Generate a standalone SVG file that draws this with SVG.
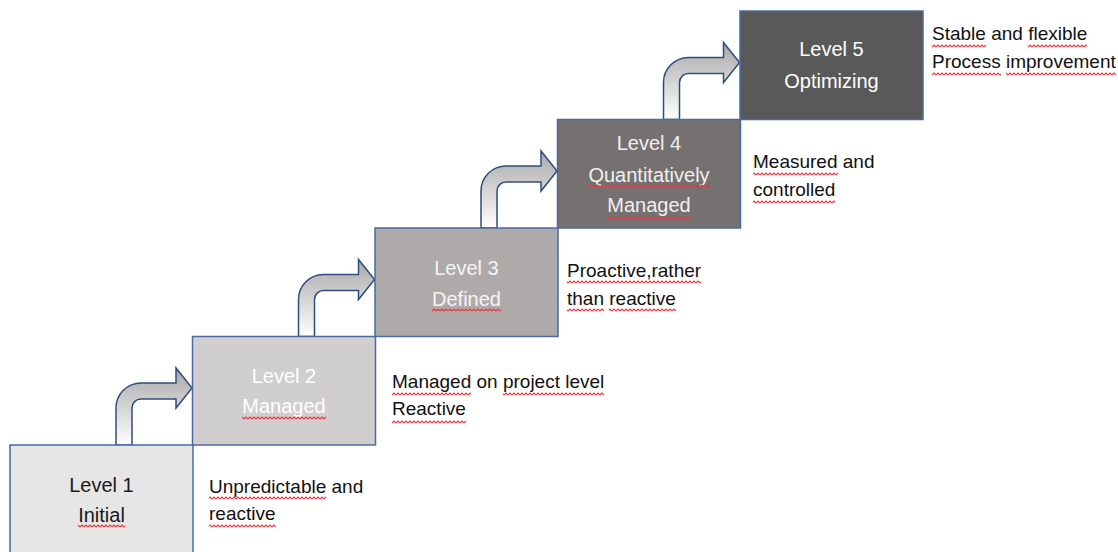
<svg xmlns="http://www.w3.org/2000/svg" width="1118" height="552" viewBox="0 0 1118 552">
<style>
.box{stroke:#4a6b9c;stroke-width:1.5}
.arrow{fill:url(#ag);stroke:#2f4d7e;stroke-width:1.5;stroke-linejoin:miter}
.bt{font-family:"Liberation Sans",Arial,sans-serif;font-size:20px;text-anchor:middle}
.st{font-family:"Liberation Sans",Arial,sans-serif;font-size:19px;fill:#111}
.sq{fill:url(#sq)}
</style>
<defs>
<linearGradient id="ag" x1="0" y1="0" x2="0" y2="1">
<stop offset="0" stop-color="#a8a8a8"/>
<stop offset="0.45" stop-color="#cfcfcf"/>
<stop offset="1" stop-color="#ffffff"/>
</linearGradient>
<pattern id="sq" width="4" height="4" patternUnits="userSpaceOnUse">
<path d="M0,3 L2,1 L4,3" fill="none" stroke="#e8363c" stroke-width="1.2"/>
</pattern>
<path id="arr" d="M116,445 L116,408 A25,25 0 0 1 141,383 L176,383 L176,368 L192,388 L176,408 L176,399 L141,399 A9,9 0 0 0 132,408 L132,445 Z"/>
</defs>
<rect width="1118" height="552" fill="#ffffff"/>
<g id="connectors">
<use href="#arr" class="arrow"/>
<use href="#arr" class="arrow" transform="translate(182.5,-108.5)"/>
<use href="#arr" class="arrow" transform="translate(365,-217)"/>
<use href="#arr" class="arrow" transform="translate(547.5,-325.5)"/>
</g>
<g id="level1">
<rect class="box" x="10" y="445" width="183" height="120" fill="#e7e6e6"/>
<text class="bt" fill="#1a1a1a" x="101.5" y="492">Level 1</text>
<text class="bt" fill="#1a1a1a" x="101.5" y="522">Initial</text>
<rect class="sq" x="78" y="524" width="47" height="4"/>
<text class="st" x="209" y="493">Unpredictable and</text>
<text class="st" x="209" y="520">reactive</text>
<rect class="sq" x="209" y="496" width="117" height="4"/>
<rect class="sq" x="209" y="524" width="67" height="4"/>
</g>
<g id="level2">
<rect class="box" x="192.5" y="336.5" width="183" height="108.5" fill="#d0cece"/>
<text class="bt" fill="#ffffff" x="284" y="383">Level 2</text>
<text class="bt" fill="#ffffff" x="284" y="413">Managed</text>
<rect class="sq" x="242" y="416" width="84" height="4"/>
<text class="st" x="392" y="388">Managed on project level</text>
<text class="st" x="392" y="415">Reactive</text>
<rect class="sq" x="392" y="392" width="79" height="4"/>
<rect class="sq" x="503" y="392" width="101" height="4"/>
<rect class="sq" x="392" y="420" width="74" height="4"/>
</g>
<g id="level3">
<rect class="box" x="375" y="228" width="183" height="108.5" fill="#aeaaaa"/>
<text class="bt" fill="#f4f4f4" x="466.5" y="275">Level 3</text>
<text class="bt" fill="#f4f4f4" x="466.5" y="306">Defined</text>
<rect class="sq" x="432" y="308" width="69" height="4"/>
<text class="st" x="567" y="277">Proactive,rather</text>
<text class="st" x="567" y="305">than reactive</text>
<rect class="sq" x="567" y="280" width="134" height="4"/>
<rect class="sq" x="567" y="308" width="37" height="4"/>
<rect class="sq" x="609" y="308" width="67" height="4"/>
</g>
<g id="level4">
<rect class="box" x="557.5" y="119.5" width="183" height="108.5" fill="#767171"/>
<text class="bt" fill="#f0f0f0" x="649" y="150">Level 4</text>
<text class="bt" fill="#f0f0f0" x="649" y="182">Quantitatively</text>
<text class="bt" fill="#f0f0f0" x="649" y="212">Managed</text>
<rect class="sq" x="588" y="184" width="121" height="4"/>
<rect class="sq" x="607" y="216" width="84" height="4"/>
<text class="st" x="753" y="168">Measured and</text>
<text class="st" x="753" y="196">controlled</text>
<rect class="sq" x="753" y="172" width="85" height="4"/>
<rect class="sq" x="753" y="200" width="82" height="4"/>
</g>
<g id="level5">
<rect class="box" x="740" y="11" width="183" height="108.5" fill="#595959"/>
<text class="bt" fill="#ffffff" x="831.5" y="56">Level 5</text>
<text class="bt" fill="#ffffff" x="831.5" y="88">Optimizing</text>
<text class="st" x="932" y="40">Stable and flexible</text>
<text class="st" x="932" y="68">Process improvement</text>
<rect class="sq" x="932" y="44" width="54" height="4"/>
<rect class="sq" x="1028" y="44" width="59" height="4"/>
<rect class="sq" x="932" y="72" width="69" height="4"/>
<rect class="sq" x="1006" y="72" width="110" height="4"/>
</g>
</svg>
